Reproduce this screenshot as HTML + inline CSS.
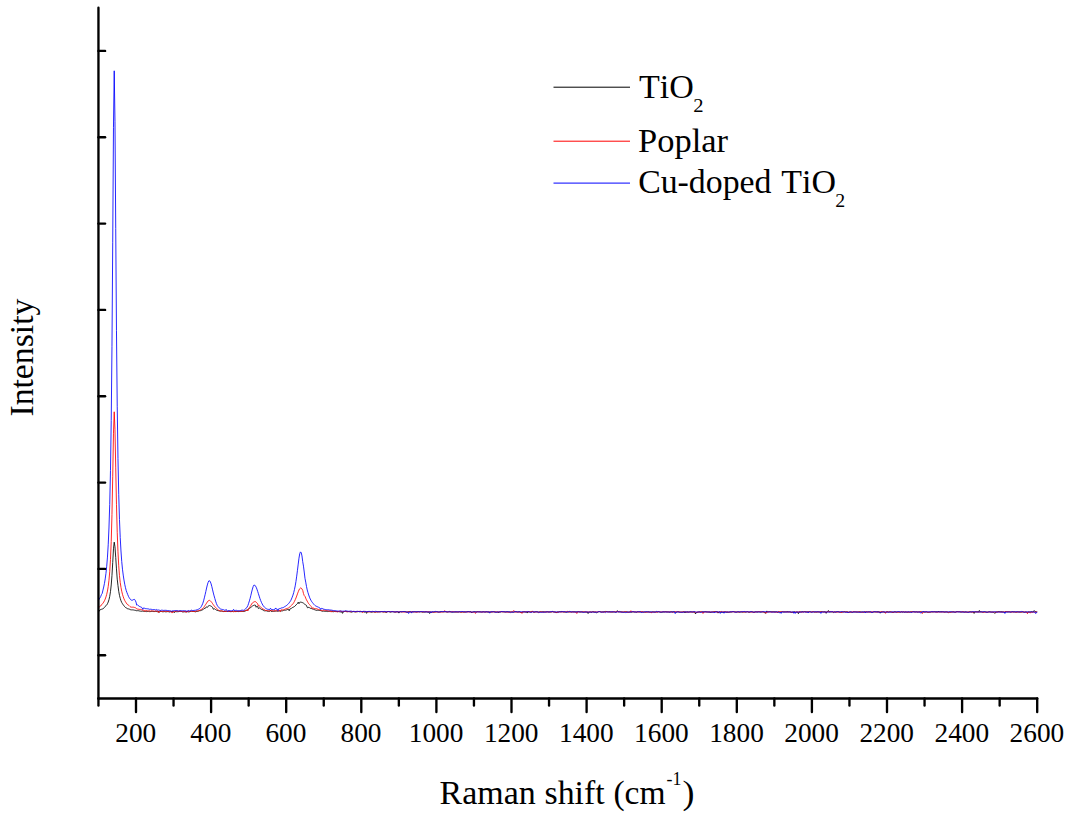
<!DOCTYPE html>
<html><head><meta charset="utf-8"><title>Raman</title>
<style>
html,body{margin:0;padding:0;background:#fff;}
body{width:1074px;height:817px;overflow:hidden;}
svg{display:block;}
text{font-family:"Liberation Serif",serif;fill:#000;}
</style></head><body>
<svg width="1074" height="817" viewBox="0 0 1074 817">
<rect width="1074" height="817" fill="#fff"/>

<polyline fill="none" stroke="#000" stroke-width="0.85" stroke-linejoin="round" points="98.45,609.97 99.20,611.24 99.95,609.86 100.70,609.54 101.45,609.30 102.20,609.07 102.96,608.80 103.71,608.27 104.46,607.39 105.21,606.39 105.96,605.75 106.71,605.00 107.46,603.72 108.21,602.04 108.96,599.72 109.72,596.36 110.47,591.65 111.22,584.97 111.97,575.37 112.72,562.54 113.47,548.82 114.22,542.17 114.97,546.77 115.72,557.47 116.47,568.89 117.22,579.11 117.98,585.60 118.73,591.26 119.48,595.35 120.23,598.32 120.98,600.75 121.73,602.49 122.48,603.71 123.23,604.82 123.98,605.77 124.73,606.71 125.49,607.51 126.24,607.87 126.99,608.37 127.74,608.84 128.49,608.91 129.24,609.07 129.99,609.49 130.74,609.79 131.49,609.87 132.25,609.87 133.00,609.86 133.75,610.02 134.50,610.20 135.25,610.31 136.00,610.57 136.75,610.75 137.50,610.66 138.25,610.68 139.00,610.90 139.75,611.02 140.51,611.17 141.26,611.31 142.01,611.11 142.76,611.11 143.51,611.34 144.26,611.36 145.01,611.30 145.76,611.35 146.51,611.58 147.26,611.53 148.02,611.22 148.77,611.30 149.52,611.63 150.27,611.60 151.02,611.45 151.77,611.39 152.52,611.36 153.27,611.50 154.02,611.59 154.78,611.52 155.53,611.39 156.28,611.46 157.03,611.71 157.78,611.70 158.53,611.39 159.28,612.42 160.03,611.34 160.78,611.35 161.53,611.51 162.28,611.73 163.04,611.82 163.79,611.69 164.54,611.59 165.29,611.78 166.04,611.85 166.79,611.71 167.54,611.60 168.29,611.64 169.04,611.91 169.80,611.99 170.55,611.70 171.30,611.44 172.05,611.46 172.80,611.61 173.55,611.68 174.30,612.67 175.05,611.64 175.80,611.64 176.55,611.73 177.31,611.73 178.06,611.65 178.81,611.60 179.56,611.43 180.31,611.20 181.06,611.19 181.81,611.51 182.56,611.88 183.31,611.91 184.06,611.74 184.81,611.79 185.57,611.86 186.32,611.58 187.07,611.51 187.82,611.82 188.57,611.92 189.32,611.81 190.07,611.62 190.82,611.37 191.57,611.27 192.32,611.41 193.08,611.45 193.83,611.33 194.58,611.19 195.33,612.21 196.08,611.25 196.83,611.42 197.58,611.43 198.33,611.19 199.08,610.82 199.84,610.66 200.59,610.63 201.34,610.37 202.09,609.97 202.84,609.67 203.59,609.21 204.34,608.36 205.09,608.60 205.84,607.29 206.59,607.00 207.34,607.44 208.10,606.19 208.85,605.70 209.60,605.56 210.35,605.81 211.10,606.19 211.85,606.67 212.60,607.35 213.35,609.28 214.10,608.58 214.86,609.03 215.61,609.58 216.36,610.05 217.11,610.41 217.86,610.59 218.61,610.72 219.36,610.98 220.11,611.12 220.86,611.09 221.61,611.06 222.37,611.25 223.12,611.55 223.87,611.54 224.62,611.50 225.37,611.48 226.12,611.34 226.87,611.28 227.62,611.34 228.37,611.37 229.12,611.37 229.88,611.53 230.63,611.58 231.38,611.54 232.13,611.47 232.88,611.27 233.63,611.15 234.38,611.22 235.13,611.47 235.88,611.63 236.63,611.53 237.38,611.50 238.14,611.57 238.89,611.54 239.64,611.39 240.39,611.33 241.14,611.38 241.89,611.38 242.64,611.46 243.39,611.52 244.14,611.43 244.89,611.23 245.65,610.81 246.40,610.37 247.15,610.04 247.90,609.52 248.65,608.91 249.40,608.42 250.15,607.89 250.90,607.35 251.65,606.73 252.41,606.06 253.16,605.62 253.91,605.25 254.66,605.08 255.41,605.21 256.16,607.26 256.91,606.20 257.66,606.66 258.41,608.55 259.16,607.79 259.92,608.29 260.67,608.82 261.42,609.35 262.17,609.82 262.92,609.49 263.67,610.64 264.42,610.81 265.17,610.84 265.92,610.73 266.67,610.88 267.43,611.25 268.18,611.26 268.93,611.25 269.68,611.31 270.43,610.29 271.18,611.36 271.93,611.51 272.68,611.37 273.43,611.22 274.18,611.25 274.94,611.27 275.69,611.07 276.44,611.03 277.19,611.21 277.94,611.20 278.69,611.08 279.44,610.89 280.19,611.41 280.94,610.74 281.69,610.93 282.44,610.86 283.20,610.49 283.95,610.18 284.70,610.23 285.45,610.20 286.20,610.02 286.95,609.74 287.70,609.46 288.45,609.39 289.20,610.75 289.95,608.87 290.71,608.65 291.46,608.30 292.21,607.74 292.96,607.32 293.71,606.99 294.46,606.54 295.21,605.88 295.96,605.01 296.71,604.23 297.46,603.56 298.22,602.16 298.97,603.72 299.72,602.32 300.47,602.14 301.22,602.21 301.97,602.48 302.72,602.73 303.47,603.13 304.22,603.82 304.98,604.49 305.73,604.89 306.48,605.38 307.23,607.46 307.98,608.02 308.73,607.18 309.48,607.65 310.23,608.23 310.98,608.44 311.73,608.64 312.49,608.99 313.24,609.13 313.99,609.41 314.74,609.78 315.49,610.05 316.24,610.33 316.99,610.29 317.74,610.21 318.49,610.35 319.24,610.39 320.00,610.48 320.75,610.62 321.50,610.91 322.25,611.25 323.00,611.18 323.75,611.11 324.50,611.31 325.25,611.36 326.00,611.24 326.75,611.38 327.50,611.56 328.26,611.42 329.01,611.26 329.76,611.27 330.51,611.15 331.26,611.10 332.01,611.38 332.76,611.68 333.51,611.71 334.26,611.50 335.01,611.35 335.77,611.37 336.52,611.46 337.27,611.54 338.02,611.58 338.77,611.64 339.52,611.75 340.27,611.91 341.02,611.95 341.77,611.87 342.52,613.36 343.28,611.80 344.03,611.63 344.78,611.42 345.53,611.20 346.28,611.39 347.03,611.65 347.78,611.60 348.53,611.64 349.28,611.70 350.04,611.66 350.79,611.96 351.54,612.15 352.29,611.88 353.04,611.66 353.79,611.62 354.54,611.82 355.29,611.86 356.04,611.70 356.79,611.79 357.55,611.71 358.30,611.55 359.05,611.66 359.80,611.78 360.55,611.72 361.30,611.72 362.05,611.80 362.80,611.72 363.55,611.51 364.30,612.25 365.06,611.75 365.81,611.91 366.56,613.34 367.31,611.80 368.06,611.79 368.81,611.70 369.56,611.69 370.31,611.84 371.06,612.06 371.81,612.25 372.56,612.03 373.32,611.73 374.07,611.87 374.82,612.07 375.57,612.02 376.32,611.83 377.07,611.86 377.82,611.95 378.57,611.82 379.32,611.71 380.07,611.77 380.83,611.77 381.58,611.63 382.33,611.68 383.08,611.88 383.83,611.96 384.58,611.87 385.33,611.78 386.08,612.79 386.83,611.69 387.58,611.61 388.34,611.58 389.09,611.66 389.84,611.95 390.59,612.12 391.34,611.91 392.09,611.73 392.84,611.76 393.59,611.82 394.34,611.93 395.09,612.03 395.85,611.94 396.60,611.74 397.35,611.80 398.10,612.03 398.85,613.08 399.60,611.90 400.35,611.66 401.10,611.77 401.85,611.85 402.60,611.64 403.36,611.52 404.11,611.59 404.86,611.63 405.61,611.63 406.36,611.68 407.11,612.63 407.86,611.84 408.61,611.72 409.36,611.61 410.12,611.74 410.87,611.99 411.62,611.87 412.37,611.73 413.12,611.84 413.87,611.80 414.62,611.72 415.37,611.80 416.12,611.94 416.87,611.89 417.62,611.68 418.38,611.64 419.13,611.79 419.88,611.87 420.63,611.80 421.38,611.82 422.13,612.07 422.88,612.15 423.63,612.06 424.38,612.09 425.13,612.06 425.89,611.90 426.64,611.91 427.39,611.97 428.14,611.99 428.89,612.06 429.64,613.49 430.39,612.18 431.14,612.15 431.89,611.94 432.64,611.98 433.40,612.08 434.15,612.00 434.90,611.88 435.65,611.89 436.40,611.85 437.15,611.82 437.90,611.97 438.65,612.07 439.40,611.94 440.15,611.72 440.91,611.60 441.66,611.67 442.41,611.84 443.16,611.88 443.91,611.83 444.66,611.85 445.41,611.78 446.16,611.81 446.91,611.97 447.66,611.99 448.42,611.82 449.17,611.50 449.92,611.44 450.67,611.75 451.42,612.08 452.17,612.22 452.92,612.05 453.67,611.98 454.42,612.01 455.18,611.99 455.93,612.10 456.68,612.05 457.43,612.00 458.18,612.03 458.93,611.81 459.68,611.81 460.43,612.14 461.18,612.17 461.93,611.94 462.69,611.97 463.44,612.11 464.19,612.06 464.94,611.97 465.69,611.89 466.44,611.79 467.19,611.69 467.94,611.55 468.69,611.56 469.44,611.66 470.19,611.63 470.95,611.61 471.70,612.89 472.45,611.99 473.20,611.88 473.95,611.74 474.70,611.69 475.45,611.76 476.20,611.82 476.95,611.72 477.70,611.65 478.46,611.80 479.21,611.93 479.96,611.93 480.71,611.95 481.46,611.94 482.21,611.90 482.96,611.75 483.71,611.67 484.46,611.85 485.21,611.96 485.97,611.91 486.72,611.93 487.47,612.09 488.22,612.11 488.97,611.94 489.72,611.86 490.47,611.93 491.22,612.06 491.97,612.05 492.72,611.82 493.48,611.67 494.23,611.77 494.98,611.85 495.73,611.92 496.48,612.05 497.23,612.06 497.98,611.97 498.73,612.82 499.48,612.00 500.24,612.02 500.99,611.74 501.74,611.63 502.49,611.82 503.24,611.87 503.99,611.81 504.74,611.91 505.49,611.97 506.24,611.84 506.99,611.80 507.75,611.78 508.50,611.86 509.25,611.99 510.00,611.92 510.75,611.88 511.50,612.02 512.25,612.08 513.00,612.15 513.75,612.12 514.50,611.83 515.25,611.76 516.01,611.81 516.76,611.84 517.51,611.99 518.26,611.89 519.01,611.63 519.76,611.83 520.51,612.41 521.26,612.63 522.01,612.24 522.76,611.89 523.52,611.94 524.27,611.95 525.02,611.93 525.77,612.00 526.52,611.91 527.27,613.05 528.02,611.79 528.77,611.89 529.52,611.95 530.27,611.93 531.03,611.87 531.78,611.60 532.53,611.54 533.28,612.01 534.03,612.32 534.78,612.12 535.53,611.84 536.28,611.69 537.03,611.77 537.78,612.03 538.54,612.01 539.29,611.89 540.04,611.92 540.79,611.88 541.54,611.84 542.29,611.79 543.04,611.73 543.79,611.72 544.54,611.84 545.30,612.00 546.05,611.96 546.80,611.89 547.55,611.81 548.30,611.76 549.05,611.94 549.80,612.11 550.55,612.11 551.30,611.98 552.05,611.91 552.81,611.29 553.56,611.81 554.31,611.83 555.06,612.04 555.81,612.12 556.56,613.06 557.31,611.95 558.06,612.05 558.81,611.78 559.56,611.60 560.32,611.74 561.07,611.68 561.82,611.48 562.57,611.66 563.32,611.98 564.07,612.01 564.82,611.97 565.57,612.14 566.32,612.23 567.07,612.04 567.83,611.96 568.58,611.97 569.33,611.88 570.08,611.85 570.83,611.97 571.58,612.03 572.33,611.82 573.08,611.73 573.83,611.79 574.58,611.75 575.34,611.84 576.09,611.89 576.84,611.82 577.59,611.88 578.34,611.89 579.09,611.91 579.84,612.00 580.59,612.14 581.34,612.07 582.09,611.84 582.85,611.84 583.60,611.95 584.35,611.97 585.10,612.01 585.85,612.18 586.60,612.21 587.35,612.10 588.10,613.53 588.85,612.10 589.60,612.01 590.36,611.98 591.11,611.86 591.86,612.59 592.61,611.60 593.36,611.70 594.11,611.89 594.86,612.11 595.61,612.20 596.36,612.95 597.11,612.30 597.87,612.11 598.62,611.76 599.37,611.59 600.12,611.75 600.87,611.96 601.62,611.99 602.37,611.96 603.12,611.89 603.87,611.84 604.62,611.65 605.38,611.46 606.13,611.47 606.88,611.54 607.63,611.78 608.38,611.88 609.13,611.66 609.88,611.64 610.63,611.89 611.38,612.07 612.13,612.15 612.88,612.01 613.64,611.84 614.39,611.93 615.14,612.13 615.89,612.15 616.64,611.93 617.39,610.64 618.14,611.78 618.89,611.95 619.64,611.98 620.40,611.79 621.15,611.84 621.90,611.91 622.65,612.00 623.40,612.20 624.15,612.11 624.90,611.94 625.65,611.80 626.40,611.69 627.15,611.91 627.91,612.19 628.66,612.10 629.41,611.93 630.16,612.00 630.91,612.23 631.66,612.23 632.41,611.96 633.16,611.86 633.91,612.04 634.66,612.06 635.42,612.02 636.17,612.25 636.92,612.05 637.67,611.69 638.42,611.80 639.17,612.00 639.92,612.00 640.67,611.92 641.42,612.01 642.17,611.99 642.93,611.98 643.68,612.02 644.43,611.99 645.18,612.13 645.93,612.14 646.68,612.02 647.43,611.97 648.18,611.84 648.93,611.80 649.68,611.96 650.44,612.08 651.19,612.08 651.94,611.97 652.69,611.87 653.44,611.89 654.19,611.91 654.94,611.99 655.69,612.01 656.44,611.95 657.19,612.03 657.95,611.91 658.70,611.81 659.45,612.00 660.20,612.14 660.95,612.20 661.70,612.23 662.45,612.21 663.20,612.14 663.95,612.03 664.70,611.85 665.46,611.69 666.21,611.75 666.96,611.83 667.71,611.92 668.46,612.04 669.21,612.20 669.96,612.25 670.71,611.95 671.46,611.68 672.21,611.80 672.97,611.87 673.72,611.78 674.47,611.93 675.22,612.15 675.97,612.22 676.72,612.18 677.47,611.91 678.22,611.70 678.97,611.90 679.72,612.14 680.48,612.12 681.23,612.14 681.98,612.19 682.73,612.00 683.48,611.81 684.23,611.81 684.98,612.96 685.73,612.20 686.48,612.18 687.23,611.81 687.99,611.81 688.74,612.07 689.49,612.02 690.24,611.89 690.99,611.85 691.74,611.91 692.49,611.99 693.24,611.94 693.99,611.91 694.74,612.07 695.50,613.91 696.25,612.55 697.00,612.38 697.75,612.21 698.50,611.97 699.25,611.81 700.00,611.88 700.75,611.97 701.50,611.88 702.25,611.83 703.00,611.90 703.76,611.82 704.51,611.76 705.26,611.76 706.01,611.77 706.76,611.88 707.51,611.93 708.26,612.06 709.01,612.19 709.76,612.12 710.52,612.95 711.27,612.04 712.02,612.08 712.77,612.03 713.52,611.75 714.27,611.60 715.02,611.67 715.77,611.66 716.52,611.60 717.27,611.59 718.03,613.10 718.78,612.05 719.53,611.85 720.28,611.93 721.03,612.14 721.78,612.22 722.53,612.99 723.28,612.16 724.03,612.00 724.78,611.77 725.54,611.86 726.29,612.24 727.04,612.31 727.79,612.26 728.54,612.26 729.29,612.10 730.04,612.01 730.79,612.09 731.54,612.04 732.29,611.81 733.05,611.61 733.80,611.63 734.55,611.78 735.30,611.87 736.05,611.96 736.80,612.01 737.55,612.00 738.30,612.00 739.05,612.13 739.80,612.17 740.56,611.97 741.31,611.97 742.06,612.14 742.81,612.11 743.56,611.95 744.31,611.96 745.06,612.04 745.81,612.01 746.56,611.88 747.31,611.73 748.07,611.86 748.82,612.25 749.57,612.34 750.32,612.00 751.07,611.76 751.82,611.78 752.57,611.84 753.32,612.05 754.07,612.12 754.82,611.93 755.58,611.83 756.33,611.94 757.08,612.08 757.83,612.06 758.58,611.96 759.33,611.92 760.08,612.01 760.83,612.11 761.58,611.98 762.33,611.81 763.09,611.91 763.84,612.12 764.59,612.21 765.34,613.39 766.09,611.94 766.84,610.92 767.59,612.15 768.34,611.83 769.09,611.75 769.84,611.83 770.60,611.79 771.35,611.72 772.10,611.75 772.85,611.75 773.60,611.70 774.35,611.69 775.10,611.79 775.85,611.92 776.60,611.97 777.35,612.15 778.11,612.20 778.86,612.03 779.61,611.99 780.36,612.01 781.11,611.94 781.86,611.79 782.61,611.90 783.36,612.08 784.11,611.93 784.86,611.85 785.62,611.94 786.37,611.77 787.12,611.55 787.87,611.67 788.62,611.91 789.37,611.97 790.12,612.00 790.87,612.32 791.62,612.51 792.37,612.31 793.12,612.01 793.88,611.75 794.63,611.86 795.38,612.14 796.13,612.13 796.88,612.00 797.63,612.05 798.38,613.66 799.13,611.98 799.88,611.92 800.63,611.90 801.39,611.81 802.14,611.62 802.89,611.71 803.64,611.86 804.39,611.67 805.14,611.64 805.89,611.79 806.64,611.92 807.39,611.92 808.15,611.87 808.90,611.84 809.65,611.75 810.40,611.85 811.15,612.03 811.90,611.96 812.65,611.78 813.40,611.80 814.15,611.94 814.90,612.00 815.66,612.04 816.41,612.18 817.16,612.07 817.91,611.82 818.66,611.86 819.41,611.99 820.16,611.93 820.91,611.67 821.66,611.60 822.41,611.80 823.17,611.92 823.92,611.87 824.67,611.67 825.42,611.73 826.17,613.33 826.92,611.78 827.67,611.76 828.42,610.52 829.17,611.89 829.92,612.03 830.68,612.00 831.43,611.88 832.18,611.96 832.93,611.92 833.68,612.51 834.43,611.85 835.18,612.07 835.93,612.02 836.68,611.81 837.43,611.72 838.19,611.76 838.94,611.89 839.69,612.10 840.44,612.12 841.19,612.02 841.94,611.93 842.69,612.00 843.44,611.96 844.19,611.69 844.94,611.81 845.70,611.88 846.45,611.73 847.20,611.74 847.95,612.04 848.70,612.40 849.45,612.23 850.20,611.97 850.95,612.08 851.70,612.31 852.45,612.25 853.21,611.89 853.96,611.84 854.71,612.03 855.46,612.02 856.21,612.04 856.96,612.12 857.71,612.04 858.46,611.88 859.21,611.75 859.96,611.72 860.72,611.88 861.47,611.97 862.22,611.96 862.97,612.09 863.72,612.08 864.47,611.89 865.22,611.91 865.97,611.91 866.72,611.92 867.47,612.01 868.23,611.90 868.98,611.84 869.73,611.90 870.48,611.95 871.23,612.17 871.98,612.32 872.73,612.20 873.48,612.03 874.23,611.87 874.98,611.88 875.74,611.99 876.49,611.88 877.24,611.67 877.99,611.66 878.74,611.78 879.49,611.88 880.24,613.19 880.99,611.94 881.74,611.88 882.49,611.90 883.25,611.99 884.00,612.19 884.75,612.37 885.50,612.33 886.25,612.03 887.00,611.70 887.75,611.75 888.50,612.11 889.25,612.17 890.00,611.91 890.75,611.92 891.51,612.03 892.26,611.88 893.01,612.81 893.76,611.72 894.51,611.74 895.26,611.77 896.01,611.90 896.76,612.07 897.51,612.09 898.27,612.00 899.02,611.94 899.77,612.13 900.52,612.18 901.27,611.87 902.02,611.63 902.77,612.35 903.52,611.79 904.27,612.13 905.02,612.18 905.78,612.07 906.53,612.14 907.28,612.25 908.03,612.08 908.78,611.97 909.53,612.05 910.28,611.91 911.03,611.77 911.78,611.78 912.53,611.72 913.29,611.70 914.04,611.79 914.79,611.89 915.54,611.88 916.29,611.83 917.04,611.97 917.79,612.03 918.54,611.94 919.29,611.97 920.04,611.86 920.80,611.76 921.55,611.85 922.30,611.86 923.05,611.76 923.80,611.88 924.55,612.20 925.30,612.14 926.05,611.82 926.80,611.94 927.55,612.30 928.31,612.28 929.06,612.10 929.81,612.05 930.56,611.94 931.31,611.86 932.06,611.95 932.81,612.03 933.56,611.80 934.31,611.68 935.06,611.82 935.82,611.74 936.57,611.67 937.32,611.79 938.07,611.99 938.82,611.10 939.57,612.09 940.32,611.83 941.07,611.66 941.82,611.63 942.57,611.66 943.33,611.78 944.08,612.02 944.83,612.13 945.58,611.96 946.33,611.85 947.08,612.00 947.83,612.18 948.58,612.22 949.33,612.17 950.08,612.10 950.84,612.09 951.59,612.01 952.34,611.90 953.09,611.80 953.84,611.82 954.59,612.15 955.34,612.26 956.09,611.86 956.84,611.58 957.59,611.62 958.35,611.76 959.10,611.84 959.85,611.98 960.60,612.15 961.35,612.08 962.10,611.95 962.85,611.85 963.60,611.82 964.35,612.05 965.10,612.03 965.86,611.86 966.61,612.03 967.36,612.24 968.11,612.26 968.86,612.03 969.61,611.75 970.36,611.74 971.11,611.87 971.86,611.92 972.61,611.85 973.37,611.93 974.12,613.41 974.87,612.05 975.62,611.86 976.37,611.76 977.12,611.83 977.87,611.73 978.62,611.68 979.37,610.46 980.12,612.10 980.88,611.86 981.63,611.81 982.38,611.90 983.13,611.93 983.88,611.93 984.63,611.91 985.38,611.89 986.13,611.93 986.88,612.10 987.63,612.13 988.38,612.01 989.14,611.95 989.89,611.88 990.64,611.93 991.39,612.00 992.14,611.98 992.89,612.11 993.64,612.27 994.39,613.06 995.14,613.30 995.90,612.05 996.65,611.89 997.40,611.76 998.15,611.67 998.90,611.56 999.65,611.65 1000.40,611.76 1001.15,611.64 1001.90,611.69 1002.65,611.89 1003.41,611.85 1004.16,612.69 1004.91,611.75 1005.66,611.75 1006.41,611.76 1007.16,611.83 1007.91,611.90 1008.66,611.93 1009.41,611.91 1010.16,611.98 1010.92,612.10 1011.67,611.92 1012.42,611.70 1013.17,611.77 1013.92,611.86 1014.67,611.92 1015.42,612.07 1016.17,612.14 1016.92,612.05 1017.67,611.91 1018.43,611.87 1019.18,611.92 1019.93,611.97 1020.68,612.14 1021.43,612.16 1022.18,611.91 1022.93,611.82 1023.68,612.09 1024.43,612.25 1025.18,612.03 1025.93,611.99 1026.69,612.16 1027.44,612.21 1028.19,612.10 1028.94,611.92 1029.69,611.94 1030.44,611.94 1031.19,611.72 1031.94,611.81 1032.69,611.94 1033.44,611.86 1034.20,610.56 1034.95,611.52 1035.70,611.64 1036.45,611.94 1037.20,612.02"/>
<polyline fill="none" stroke="#f00" stroke-width="0.85" stroke-linejoin="round" points="98.45,607.31 99.20,606.95 99.95,606.61 100.70,606.00 101.45,604.91 102.20,604.00 102.96,603.22 103.71,602.07 104.46,600.74 105.21,599.09 105.96,596.92 106.71,594.34 107.46,591.04 108.21,586.51 108.96,580.30 109.72,571.73 110.47,559.51 111.22,541.46 111.97,514.47 112.72,476.21 113.47,433.17 114.22,411.80 114.97,429.64 115.72,467.87 116.47,504.73 117.22,532.29 117.98,551.76 118.73,565.78 119.48,575.67 120.23,582.48 120.98,587.39 121.73,591.23 122.48,594.27 123.23,596.74 123.98,598.80 124.73,600.47 125.49,601.79 126.24,602.92 126.99,604.02 127.74,604.81 128.49,605.23 129.24,605.72 129.99,606.48 130.74,607.07 131.49,607.20 132.25,607.18 133.00,607.17 133.75,607.23 134.50,607.46 135.25,607.65 136.00,608.13 136.75,608.83 137.50,609.07 138.25,609.16 139.00,609.38 139.75,609.39 140.51,609.41 141.26,609.76 142.01,609.51 142.76,610.23 143.51,610.22 144.26,610.32 145.01,611.52 145.76,610.45 146.51,610.52 147.26,610.80 148.02,611.11 148.77,611.06 149.52,610.75 150.27,611.28 151.02,610.62 151.77,610.83 152.52,610.99 153.27,610.94 154.02,611.05 154.78,611.26 155.53,611.13 156.28,610.86 157.03,610.90 157.78,611.06 158.53,612.58 159.28,611.22 160.03,611.12 160.78,611.22 161.53,611.35 162.28,611.38 163.04,611.39 163.79,611.24 164.54,611.18 165.29,611.25 166.04,611.23 166.79,611.32 167.54,611.43 168.29,611.48 169.04,611.45 169.80,611.42 170.55,611.49 171.30,611.57 172.05,613.05 172.80,611.68 173.55,611.71 174.30,611.54 175.05,611.33 175.80,611.23 176.55,611.11 177.31,611.03 178.06,611.26 178.81,611.36 179.56,611.29 180.31,611.40 181.06,611.46 181.81,611.49 182.56,611.61 183.31,611.64 184.06,611.47 184.81,611.47 185.57,611.47 186.32,612.50 187.07,611.20 187.82,611.41 188.57,611.51 189.32,611.46 190.07,611.36 190.82,611.22 191.57,611.23 192.32,611.40 193.08,611.46 193.83,611.48 194.58,611.50 195.33,611.37 196.08,611.14 196.83,610.87 197.58,610.78 198.33,610.80 199.08,610.65 199.84,610.27 200.59,609.80 201.34,609.44 202.09,609.04 202.84,608.48 203.59,607.63 204.34,606.52 205.09,605.37 205.84,604.25 206.59,603.13 207.34,601.98 208.10,601.01 208.85,600.41 209.60,600.36 210.35,600.83 211.10,601.63 211.85,602.57 212.60,603.65 213.35,604.76 214.10,605.76 214.86,606.74 215.61,607.55 216.36,608.22 217.11,608.90 217.86,609.63 218.61,610.25 219.36,610.54 220.11,610.80 220.86,611.02 221.61,610.96 222.37,611.00 223.12,611.07 223.87,611.83 224.62,611.02 225.37,611.23 226.12,611.37 226.87,611.29 227.62,611.30 228.37,611.36 229.12,611.23 229.88,611.35 230.63,611.60 231.38,611.59 232.13,611.47 232.88,611.26 233.63,612.06 234.38,611.55 235.13,611.58 235.88,611.44 236.63,611.29 237.38,611.12 238.14,611.16 238.89,611.29 239.64,611.40 240.39,611.52 241.14,611.31 241.89,611.10 242.64,611.20 243.39,611.18 244.14,610.84 244.89,610.53 245.65,610.55 246.40,610.36 247.15,609.89 247.90,610.92 248.65,608.63 249.40,607.57 250.15,606.47 250.90,605.26 251.65,603.93 252.41,602.93 253.16,602.41 253.91,601.98 254.66,601.61 255.41,601.62 256.16,602.18 256.91,602.98 257.66,603.78 258.41,606.13 259.16,605.45 259.92,606.43 260.67,607.27 261.42,607.76 262.17,608.39 262.92,609.03 263.67,609.25 264.42,609.65 265.17,610.29 265.92,610.60 266.67,610.50 267.43,610.52 268.18,610.84 268.93,610.93 269.68,610.75 270.43,610.78 271.18,610.65 271.93,610.22 272.68,610.15 273.43,611.43 274.18,610.60 274.94,610.71 275.69,610.83 276.44,610.71 277.19,610.64 277.94,610.73 278.69,610.58 279.44,610.25 280.19,611.62 280.94,609.93 281.69,609.82 282.44,609.90 283.20,609.96 283.95,609.79 284.70,609.35 285.45,608.94 286.20,608.68 286.95,608.47 287.70,608.28 288.45,607.95 289.20,607.53 289.95,606.88 290.71,605.95 291.46,605.28 292.21,604.74 292.96,603.83 293.71,602.68 294.46,601.35 295.21,599.74 295.96,598.00 296.71,596.04 297.46,593.90 298.22,591.80 298.97,590.00 299.72,588.67 300.47,587.96 301.22,588.09 301.97,588.99 302.72,590.37 303.47,593.50 304.22,595.53 304.98,596.31 305.73,598.19 306.48,599.83 307.23,601.14 307.98,602.51 308.73,603.78 309.48,604.54 310.23,605.43 310.98,606.47 311.73,607.02 312.49,608.43 313.24,608.03 313.99,608.39 314.74,608.55 315.49,608.66 316.24,608.69 316.99,608.82 317.74,609.18 318.49,609.44 319.24,609.63 320.00,609.93 320.75,610.31 321.50,610.55 322.25,610.45 323.00,610.20 323.75,610.14 324.50,610.31 325.25,610.57 326.00,610.67 326.75,610.51 327.50,610.56 328.26,610.86 329.01,611.04 329.76,611.01 330.51,610.85 331.26,612.11 332.01,611.05 332.76,611.05 333.51,611.11 334.26,611.31 335.01,611.52 335.77,611.65 336.52,611.59 337.27,612.23 338.02,611.11 338.77,611.43 339.52,611.45 340.27,610.79 341.02,611.51 341.77,611.55 342.52,611.50 343.28,611.42 344.03,611.47 344.78,611.47 345.53,611.44 346.28,611.66 347.03,611.85 347.78,611.69 348.53,611.49 349.28,611.51 350.04,611.63 350.79,611.71 351.54,611.60 352.29,611.49 353.04,611.43 353.79,611.37 354.54,611.60 355.29,611.91 356.04,611.87 356.79,611.61 357.55,611.52 358.30,611.50 359.05,611.43 359.80,611.33 360.55,611.42 361.30,611.64 362.05,611.61 362.80,612.68 363.55,611.71 364.30,611.51 365.06,611.38 365.81,611.52 366.56,611.67 367.31,611.78 368.06,611.87 368.81,611.85 369.56,611.82 370.31,611.81 371.06,611.80 371.81,611.67 372.56,611.67 373.32,611.80 374.07,611.87 374.82,612.14 375.57,612.22 376.32,611.94 377.07,611.76 377.82,611.84 378.57,611.99 379.32,611.90 380.07,611.69 380.83,611.62 381.58,611.69 382.33,611.80 383.08,611.91 383.83,611.93 384.58,611.83 385.33,611.81 386.08,611.96 386.83,611.96 387.58,611.67 388.34,611.50 389.09,611.62 389.84,611.78 390.59,611.77 391.34,611.66 392.09,611.55 392.84,611.52 393.59,611.73 394.34,611.98 395.09,612.05 395.85,612.10 396.60,611.99 397.35,611.69 398.10,611.72 398.85,611.83 399.60,611.66 400.35,611.75 401.10,611.93 401.85,611.86 402.60,611.88 403.36,612.10 404.11,612.17 404.86,611.96 405.61,611.99 406.36,612.16 407.11,611.91 407.86,611.76 408.61,611.87 409.36,611.89 410.12,611.95 410.87,612.02 411.62,611.88 412.37,611.80 413.12,611.96 413.87,611.92 414.62,611.87 415.37,611.98 416.12,612.08 416.87,612.15 417.62,612.09 418.38,611.90 419.13,611.89 419.88,611.76 420.63,611.55 421.38,611.73 422.13,611.91 422.88,611.93 423.63,611.86 424.38,611.76 425.13,611.76 425.89,611.64 426.64,611.70 427.39,611.87 428.14,611.85 428.89,611.71 429.64,611.57 430.39,611.81 431.14,612.18 431.89,612.31 432.64,612.24 433.40,612.13 434.15,612.15 434.90,612.18 435.65,612.08 436.40,611.86 437.15,611.82 437.90,612.06 438.65,612.15 439.40,612.17 440.15,612.26 440.91,612.24 441.66,612.06 442.41,611.87 443.16,611.91 443.91,611.94 444.66,610.58 445.41,611.83 446.16,611.88 446.91,611.91 447.66,611.94 448.42,611.83 449.17,611.82 449.92,612.01 450.67,611.99 451.42,611.76 452.17,611.56 452.92,611.51 453.67,611.72 454.42,611.86 455.18,611.88 455.93,611.84 456.68,611.82 457.43,611.96 458.18,611.96 458.93,611.88 459.68,611.83 460.43,611.74 461.18,612.58 461.93,611.70 462.69,611.83 463.44,612.01 464.19,612.14 464.94,612.12 465.69,611.98 466.44,611.87 467.19,612.00 467.94,612.06 468.69,611.96 469.44,612.03 470.19,612.09 470.95,611.96 471.70,612.03 472.45,612.29 473.20,612.22 473.95,611.99 474.70,612.01 475.45,613.42 476.20,611.95 476.95,611.79 477.70,611.83 478.46,611.79 479.21,611.78 479.96,611.89 480.71,611.91 481.46,611.99 482.21,612.11 482.96,612.05 483.71,611.90 484.46,611.95 485.21,612.10 485.97,611.98 486.72,611.69 487.47,611.69 488.22,611.93 488.97,612.13 489.72,612.16 490.47,611.96 491.22,611.95 491.97,612.01 492.72,611.80 493.48,611.79 494.23,612.03 494.98,612.09 495.73,612.00 496.48,611.93 497.23,612.04 497.98,612.05 498.73,611.80 499.48,611.68 500.24,611.63 500.99,611.67 501.74,611.83 502.49,611.83 503.24,611.74 503.99,611.77 504.74,611.93 505.49,612.01 506.24,612.01 506.99,612.07 507.75,612.20 508.50,612.24 509.25,612.12 510.00,612.10 510.75,612.07 511.50,611.94 512.25,611.75 513.00,611.62 513.75,610.51 514.50,612.10 515.25,612.04 516.01,611.97 516.76,611.95 517.51,612.04 518.26,612.10 519.01,612.09 519.76,612.17 520.51,612.27 521.26,612.14 522.01,613.39 522.76,611.78 523.52,611.91 524.27,611.95 525.02,611.83 525.77,611.70 526.52,611.62 527.27,611.73 528.02,611.79 528.77,611.63 529.52,611.65 530.27,611.87 531.03,612.05 531.78,612.17 532.53,610.92 533.28,612.09 534.03,612.05 534.78,612.02 535.53,611.99 536.28,611.92 537.03,611.85 537.78,611.90 538.54,612.69 539.29,612.06 540.04,611.74 540.79,611.67 541.54,611.85 542.29,611.99 543.04,612.21 543.79,612.27 544.54,611.97 545.30,611.81 546.05,612.03 546.80,612.00 547.55,611.89 548.30,612.03 549.05,611.94 549.80,611.83 550.55,611.91 551.30,611.73 552.05,611.63 552.81,611.92 553.56,612.07 554.31,612.03 555.06,612.14 555.81,612.05 556.56,612.88 557.31,611.91 558.06,612.21 558.81,612.12 559.56,611.89 560.32,611.94 561.07,612.11 561.82,612.02 562.57,611.87 563.32,611.83 564.07,611.97 564.82,612.03 565.57,611.78 566.32,611.64 567.07,611.46 567.83,611.41 568.58,611.84 569.33,612.05 570.08,611.91 570.83,611.93 571.58,612.08 572.33,611.99 573.08,611.80 573.83,611.97 574.58,612.19 575.34,612.17 576.09,612.11 576.84,613.49 577.59,612.05 578.34,611.09 579.09,611.97 579.84,611.93 580.59,611.79 581.34,611.73 582.09,611.94 582.85,612.03 583.60,611.89 584.35,611.79 585.10,611.86 585.85,611.91 586.60,611.90 587.35,611.85 588.10,611.87 588.85,612.02 589.60,612.05 590.36,612.01 591.11,612.01 591.86,611.92 592.61,611.85 593.36,611.94 594.11,612.07 594.86,611.96 595.61,611.68 596.36,611.77 597.11,612.09 597.87,612.00 598.62,611.62 599.37,611.58 600.12,611.73 600.87,611.87 601.62,612.06 602.37,611.99 603.12,611.96 603.87,612.20 604.62,612.12 605.38,611.80 606.13,611.76 606.88,611.92 607.63,611.82 608.38,611.72 609.13,611.97 609.88,612.15 610.63,612.06 611.38,611.90 612.13,611.77 612.88,611.88 613.64,611.87 614.39,611.69 615.14,611.80 615.89,611.86 616.64,611.75 617.39,611.77 618.14,611.81 618.89,611.85 619.64,611.31 620.40,612.15 621.15,612.08 621.90,611.99 622.65,611.96 623.40,611.97 624.15,611.92 624.90,611.68 625.65,611.78 626.40,612.13 627.15,612.14 627.91,612.22 628.66,612.32 629.41,612.10 630.16,612.02 630.91,610.71 631.66,611.98 632.41,611.74 633.16,611.67 633.91,611.76 634.66,611.83 635.42,611.89 636.17,611.98 636.92,612.03 637.67,612.03 638.42,612.01 639.17,611.88 639.92,611.77 640.67,611.75 641.42,611.56 642.17,611.62 642.93,612.04 643.68,612.12 644.43,612.05 645.18,612.14 645.93,612.16 646.68,612.04 647.43,612.01 648.18,612.06 648.93,612.06 649.68,612.20 650.44,612.23 651.19,612.90 651.94,611.97 652.69,612.07 653.44,612.01 654.19,612.16 654.94,612.23 655.69,612.08 656.44,612.13 657.19,612.08 657.95,611.84 658.70,611.66 659.45,611.67 660.20,611.88 660.95,612.06 661.70,611.97 662.45,611.69 663.20,611.57 663.95,611.78 664.70,611.92 665.46,611.87 666.21,611.95 666.96,612.04 667.71,611.96 668.46,611.86 669.21,611.79 669.96,611.69 670.71,611.65 671.46,611.94 672.21,612.35 672.97,612.33 673.72,612.04 674.47,611.79 675.22,611.64 675.97,611.80 676.72,611.90 677.47,611.74 678.22,611.74 678.97,611.86 679.72,611.97 680.48,612.13 681.23,612.06 681.98,611.93 682.73,611.99 683.48,611.86 684.23,611.73 684.98,611.72 685.73,611.72 686.48,611.95 687.23,612.27 687.99,612.27 688.74,612.03 689.49,611.93 690.24,612.08 690.99,612.14 691.74,611.95 692.49,611.88 693.24,612.14 693.99,612.19 694.74,612.10 695.50,612.17 696.25,612.07 697.00,612.09 697.75,612.22 698.50,612.18 699.25,612.10 700.00,611.96 700.75,611.77 701.50,611.71 702.25,611.83 703.00,613.45 703.76,612.02 704.51,611.91 705.26,611.93 706.01,612.09 706.76,612.02 707.51,611.96 708.26,611.94 709.01,611.83 709.76,611.78 710.52,611.87 711.27,611.96 712.02,611.92 712.77,611.93 713.52,611.95 714.27,611.86 715.02,611.79 715.77,611.85 716.52,612.00 717.27,612.12 718.03,612.18 718.78,612.16 719.53,612.04 720.28,611.93 721.03,611.62 721.78,611.46 722.53,611.69 723.28,611.75 724.03,611.83 724.78,612.05 725.54,612.06 726.29,611.82 727.04,611.68 727.79,611.90 728.54,612.20 729.29,612.21 730.04,611.95 730.79,611.75 731.54,611.78 732.29,611.79 733.05,611.76 733.80,611.89 734.55,611.98 735.30,612.10 736.05,612.17 736.80,611.97 737.55,611.78 738.30,611.86 739.05,612.10 739.80,612.07 740.56,611.85 741.31,611.73 742.06,611.79 742.81,611.95 743.56,612.02 744.31,612.00 745.06,611.98 745.81,611.95 746.56,611.82 747.31,611.71 748.07,611.90 748.82,612.08 749.57,611.91 750.32,611.89 751.07,612.12 751.82,612.14 752.57,611.96 753.32,611.89 754.07,612.97 754.82,612.18 755.58,612.00 756.33,611.73 757.08,611.68 757.83,611.77 758.58,611.56 759.33,611.50 760.08,611.66 760.83,611.68 761.58,611.74 762.33,611.85 763.09,611.97 763.84,612.05 764.59,612.19 765.34,612.25 766.09,613.25 766.84,612.01 767.59,611.82 768.34,611.74 769.09,611.87 769.84,611.93 770.60,612.03 771.35,612.15 772.10,612.02 772.85,611.93 773.60,612.03 774.35,612.24 775.10,612.31 775.85,612.09 776.60,611.82 777.35,612.74 778.11,611.59 778.86,611.63 779.61,611.71 780.36,611.77 781.11,611.85 781.86,611.80 782.61,611.58 783.36,611.48 784.11,611.81 784.86,612.01 785.62,611.89 786.37,611.96 787.12,612.03 787.87,612.05 788.62,612.00 789.37,611.78 790.12,611.81 790.87,611.98 791.62,612.01 792.37,611.96 793.12,612.88 793.88,612.01 794.63,612.12 795.38,612.12 796.13,612.03 796.88,612.00 797.63,612.06 798.38,611.99 799.13,611.72 799.88,611.52 800.63,611.87 801.39,612.34 802.14,612.25 802.89,612.01 803.64,611.82 804.39,611.65 805.14,611.89 805.89,612.19 806.64,612.05 807.39,611.88 808.15,611.78 808.90,611.80 809.65,611.92 810.40,611.98 811.15,612.09 811.90,612.03 812.65,611.73 813.40,611.65 814.15,612.00 814.90,612.18 815.66,612.01 816.41,611.88 817.16,611.82 817.91,611.99 818.66,612.03 819.41,611.82 820.16,611.77 820.91,611.90 821.66,611.96 822.41,611.85 823.17,611.85 823.92,611.94 824.67,612.14 825.42,612.25 826.17,612.08 826.92,611.83 827.67,611.69 828.42,611.73 829.17,611.77 829.92,611.58 830.68,611.52 831.43,611.75 832.18,611.84 832.93,611.86 833.68,611.96 834.43,611.92 835.18,611.91 835.93,612.13 836.68,612.23 837.43,612.15 838.19,612.07 838.94,611.86 839.69,611.82 840.44,611.93 841.19,612.90 841.94,611.98 842.69,612.00 843.44,611.81 844.19,611.68 844.94,611.88 845.70,612.14 846.45,612.05 847.20,611.96 847.95,612.13 848.70,612.15 849.45,612.20 850.20,612.35 850.95,612.11 851.70,611.82 852.45,611.90 853.21,612.01 853.96,611.87 854.71,611.68 855.46,611.68 856.21,611.93 856.96,612.05 857.71,611.98 858.46,611.95 859.21,611.95 859.96,612.00 860.72,612.16 861.47,612.26 862.22,612.23 862.97,612.25 863.72,612.23 864.47,612.06 865.22,611.85 865.97,611.86 866.72,612.01 867.47,611.92 868.23,611.82 868.98,612.01 869.73,612.33 870.48,612.31 871.23,611.92 871.98,611.75 872.73,611.92 873.48,611.98 874.23,611.74 874.98,611.68 875.74,611.89 876.49,612.12 877.24,612.19 877.99,612.10 878.74,612.08 879.49,611.92 880.24,611.80 880.99,611.78 881.74,611.75 882.49,611.85 883.25,611.84 884.00,611.78 884.75,611.89 885.50,613.33 886.25,611.78 887.00,611.82 887.75,611.96 888.50,611.98 889.25,611.79 890.00,611.62 890.75,611.79 891.51,612.05 892.26,612.20 893.01,612.33 893.76,612.29 894.51,612.05 895.26,612.00 896.01,612.20 896.76,612.26 897.51,612.14 898.27,612.14 899.02,612.16 899.77,611.99 900.52,611.92 901.27,611.90 902.02,611.89 902.77,611.90 903.52,611.88 904.27,611.96 905.02,611.91 905.78,611.85 906.53,611.92 907.28,612.01 908.03,612.21 908.78,612.27 909.53,612.14 910.28,612.03 911.03,611.92 911.78,611.87 912.53,611.84 913.29,611.85 914.04,611.90 914.79,611.95 915.54,612.03 916.29,611.90 917.04,611.83 917.79,612.07 918.54,612.03 919.29,611.80 920.04,611.73 920.80,611.69 921.55,611.87 922.30,613.55 923.05,612.19 923.80,612.11 924.55,611.81 925.30,611.71 926.05,611.88 926.80,611.94 927.55,612.08 928.31,612.22 929.06,612.23 929.81,612.25 930.56,612.13 931.31,611.92 932.06,611.75 932.81,611.75 933.56,611.90 934.31,611.92 935.06,611.84 935.82,612.05 936.57,612.37 937.32,612.21 938.07,611.98 938.82,612.04 939.57,611.94 940.32,611.96 941.07,612.18 941.82,612.10 942.57,611.94 943.33,612.05 944.08,612.15 944.83,612.06 945.58,611.96 946.33,611.85 947.08,611.88 947.83,612.00 948.58,612.77 949.33,612.10 950.08,612.22 950.84,612.25 951.59,612.05 952.34,611.86 953.09,611.89 953.84,612.01 954.59,612.09 955.34,612.03 956.09,612.01 956.84,611.98 957.59,611.79 958.35,611.68 959.10,611.59 959.85,611.68 960.60,611.90 961.35,611.88 962.10,611.85 962.85,611.83 963.60,611.87 964.35,612.04 965.10,612.13 965.86,612.17 966.61,612.21 967.36,612.09 968.11,611.95 968.86,611.91 969.61,611.96 970.36,611.96 971.11,612.04 971.86,612.24 972.61,612.20 973.37,611.99 974.12,611.83 974.87,611.77 975.62,611.82 976.37,611.86 977.12,611.92 977.87,612.05 978.62,612.19 979.37,612.16 980.12,611.78 980.88,611.69 981.63,612.02 982.38,612.30 983.13,612.45 983.88,612.34 984.63,612.09 985.38,612.11 986.13,612.24 986.88,612.21 987.63,612.08 988.38,611.92 989.14,611.87 989.89,611.96 990.64,611.99 991.39,612.13 992.14,612.27 992.89,612.11 993.64,611.93 994.39,612.02 995.14,612.14 995.90,612.05 996.65,612.00 997.40,611.91 998.15,611.90 998.90,612.20 999.65,612.20 1000.40,612.02 1001.15,612.14 1001.90,612.16 1002.65,611.98 1003.41,611.92 1004.16,611.87 1004.91,611.89 1005.66,611.90 1006.41,611.70 1007.16,611.62 1007.91,611.74 1008.66,611.71 1009.41,611.71 1010.16,611.86 1010.92,611.98 1011.67,612.13 1012.42,612.12 1013.17,611.99 1013.92,611.88 1014.67,611.90 1015.42,612.10 1016.17,612.16 1016.92,612.10 1017.67,611.97 1018.43,611.92 1019.18,612.01 1019.93,611.99 1020.68,612.03 1021.43,612.00 1022.18,611.89 1022.93,611.91 1023.68,611.90 1024.43,611.93 1025.18,612.02 1025.93,612.17 1026.69,612.30 1027.44,613.68 1028.19,612.00 1028.94,612.05 1029.69,612.11 1030.44,613.13 1031.19,611.92 1031.94,612.20 1032.69,612.18 1033.44,612.11 1034.20,612.24 1034.95,612.21 1035.70,612.05 1036.45,612.01 1037.20,611.99"/>
<polyline fill="none" stroke="#00f" stroke-width="0.85" stroke-linejoin="round" points="98.45,600.26 99.20,599.07 99.95,597.92 100.70,596.52 101.45,594.59 102.20,593.44 102.96,590.09 103.71,587.03 104.46,583.36 105.21,578.93 105.96,573.33 106.71,566.24 107.46,557.08 108.21,544.82 108.96,528.00 109.72,504.43 110.47,470.58 111.22,420.60 111.97,346.29 112.72,242.26 113.47,127.27 114.22,70.81 114.97,121.23 115.72,228.48 116.47,330.58 117.22,406.22 117.98,458.33 118.73,494.28 119.48,519.53 120.23,537.57 120.98,550.97 121.73,561.40 122.48,569.20 123.23,575.08 123.98,580.04 124.73,584.22 125.49,587.75 126.24,590.60 126.99,592.71 127.74,594.61 128.49,596.40 129.24,597.75 129.99,598.83 130.74,599.73 131.49,600.19 132.25,600.22 133.00,599.94 133.75,599.47 134.50,599.38 135.25,600.39 136.00,602.15 136.75,605.20 137.50,604.82 138.25,605.57 139.00,606.15 139.75,606.59 140.51,606.86 141.26,607.23 142.01,607.66 142.76,609.35 143.51,607.91 144.26,608.14 145.01,608.49 145.76,608.67 146.51,608.70 147.26,608.80 148.02,608.84 148.77,609.01 149.52,609.30 150.27,609.24 151.02,609.18 151.77,609.45 152.52,609.61 153.27,609.55 154.02,609.54 154.78,609.65 155.53,609.93 156.28,609.46 157.03,610.12 157.78,610.04 158.53,609.99 159.28,610.16 160.03,610.48 160.78,610.45 161.53,610.18 162.28,610.20 163.04,610.40 163.79,610.40 164.54,610.33 165.29,610.30 166.04,610.32 166.79,610.43 167.54,610.56 168.29,610.54 169.04,610.63 169.80,610.87 170.55,610.82 171.30,611.38 172.05,610.85 172.80,610.80 173.55,610.72 174.30,610.66 175.05,610.65 175.80,610.58 176.55,610.52 177.31,610.69 178.06,610.98 178.81,610.93 179.56,610.65 180.31,610.73 181.06,610.88 181.81,610.83 182.56,610.74 183.31,610.67 184.06,610.70 184.81,610.80 185.57,610.81 186.32,610.79 187.07,611.65 187.82,610.56 188.57,610.51 189.32,610.91 190.07,611.01 190.82,610.47 191.57,610.18 192.32,610.51 193.08,610.60 193.83,610.38 194.58,610.34 195.33,610.28 196.08,610.04 196.83,609.79 197.58,609.59 198.33,609.28 199.08,608.91 199.84,608.41 200.59,607.61 201.34,606.50 202.09,605.03 202.84,603.26 203.59,600.85 204.34,597.86 205.09,594.77 205.84,591.46 206.59,588.03 207.34,584.94 208.10,582.41 208.85,580.85 209.60,580.77 210.35,581.89 211.10,583.85 211.85,586.66 212.60,589.89 213.35,593.04 214.10,595.87 214.86,598.55 215.61,601.16 216.36,603.41 217.11,605.19 217.86,606.35 218.61,607.20 219.36,608.12 220.11,608.79 220.86,609.11 221.61,609.31 222.37,609.44 223.12,609.57 223.87,609.93 224.62,610.24 225.37,610.33 226.12,609.38 226.87,610.40 227.62,611.51 228.37,610.60 229.12,610.71 229.88,610.62 230.63,610.71 231.38,610.79 232.13,610.54 232.88,610.39 233.63,609.39 234.38,610.67 235.13,610.57 235.88,610.25 236.63,610.39 237.38,610.77 238.14,610.77 238.89,610.71 239.64,610.71 240.39,610.58 241.14,610.36 241.89,610.10 242.64,610.15 243.39,610.33 244.14,610.07 244.89,609.56 245.65,608.83 246.40,607.97 247.15,607.01 247.90,605.52 248.65,603.27 249.40,600.84 250.15,598.30 250.90,595.24 251.65,592.00 252.41,589.05 253.16,586.58 253.91,585.09 254.66,585.13 255.41,585.91 256.16,587.20 256.91,589.14 257.66,591.38 258.41,593.72 259.16,596.12 259.92,598.46 260.67,600.52 261.42,602.32 262.17,603.91 262.92,605.24 263.67,606.30 264.42,607.13 265.17,607.87 265.92,608.46 266.67,608.88 267.43,609.22 268.18,609.37 268.93,609.42 269.68,609.57 270.43,608.26 271.18,609.43 271.93,609.39 272.68,609.59 273.43,609.66 274.18,609.39 274.94,609.30 275.69,607.96 276.44,609.13 277.19,609.11 277.94,610.60 278.69,608.79 279.44,608.56 280.19,608.47 280.94,608.25 281.69,607.84 282.44,607.74 283.20,607.60 283.95,607.09 284.70,606.65 285.45,606.23 286.20,605.75 286.95,605.16 287.70,604.50 288.45,603.74 289.20,602.79 289.95,601.81 290.71,600.63 291.46,599.01 292.21,597.15 292.96,595.12 293.71,592.58 294.46,589.47 295.21,585.90 295.96,581.44 296.71,576.14 297.46,570.32 298.22,564.08 298.97,558.16 299.72,553.74 300.47,551.88 301.22,552.69 301.97,555.93 302.72,561.68 303.47,566.13 304.22,572.03 304.98,578.28 305.73,582.14 306.48,586.36 307.23,589.96 307.98,592.64 308.73,594.97 309.48,597.17 310.23,598.91 310.98,600.35 311.73,601.64 312.49,602.62 313.24,603.54 313.99,604.52 314.74,605.28 315.49,605.81 316.24,606.22 316.99,606.52 317.74,606.88 318.49,607.26 319.24,607.62 320.00,608.02 320.75,609.59 321.50,608.34 322.25,608.45 323.00,608.88 323.75,609.21 324.50,609.36 325.25,609.53 326.00,609.67 326.75,609.72 327.50,609.72 328.26,609.71 329.01,609.87 329.76,609.97 330.51,610.03 331.26,610.12 332.01,610.19 332.76,610.43 333.51,610.64 334.26,610.63 335.01,610.71 335.77,610.83 336.52,610.90 337.27,610.86 338.02,611.58 338.77,610.77 339.52,611.01 340.27,611.09 341.02,611.06 341.77,611.09 342.52,611.21 343.28,611.23 344.03,611.17 344.78,611.10 345.53,610.93 346.28,610.90 347.03,611.03 347.78,611.20 348.53,611.30 349.28,611.22 350.04,611.16 350.79,611.08 351.54,611.17 352.29,611.48 353.04,611.51 353.79,611.42 354.54,611.42 355.29,611.53 356.04,611.51 356.79,611.34 357.55,611.29 358.30,611.41 359.05,611.56 359.80,611.50 360.55,611.36 361.30,611.51 362.05,611.64 362.80,611.44 363.55,611.31 364.30,611.37 365.06,611.43 365.81,611.49 366.56,611.57 367.31,611.56 368.06,611.52 368.81,611.41 369.56,611.42 370.31,611.60 371.06,611.62 371.81,611.49 372.56,611.36 373.32,611.49 374.07,611.68 374.82,611.57 375.57,611.32 376.32,611.38 377.07,611.74 377.82,611.72 378.57,611.57 379.32,611.81 380.07,611.87 380.83,611.58 381.58,611.52 382.33,611.64 383.08,611.62 383.83,611.50 384.58,611.45 385.33,611.50 386.08,611.60 386.83,611.75 387.58,611.78 388.34,611.63 389.09,611.50 389.84,611.59 390.59,611.72 391.34,611.60 392.09,611.56 392.84,611.69 393.59,611.77 394.34,611.88 395.09,611.96 395.85,611.80 396.60,611.74 397.35,611.78 398.10,611.78 398.85,611.91 399.60,611.94 400.35,611.70 401.10,611.61 401.85,611.79 402.60,611.71 403.36,611.55 404.11,611.55 404.86,611.63 405.61,611.97 406.36,612.09 407.11,611.90 407.86,611.90 408.61,613.47 409.36,611.88 410.12,611.64 410.87,611.63 411.62,613.08 412.37,611.69 413.12,611.71 413.87,611.79 414.62,611.80 415.37,611.76 416.12,611.69 416.87,611.72 417.62,611.74 418.38,611.72 419.13,611.79 419.88,611.77 420.63,611.61 421.38,611.59 422.13,611.64 422.88,611.58 423.63,611.67 424.38,611.86 425.13,611.87 425.89,611.77 426.64,611.84 427.39,612.04 428.14,612.08 428.89,612.01 429.64,611.87 430.39,611.61 431.14,612.92 431.89,611.57 432.64,611.74 433.40,611.85 434.15,611.78 434.90,611.54 435.65,611.40 436.40,611.57 437.15,611.80 437.90,611.87 438.65,611.95 439.40,611.98 440.15,611.90 440.91,611.69 441.66,611.56 442.41,611.60 443.16,611.52 443.91,611.49 444.66,611.59 445.41,611.56 446.16,611.65 446.91,611.83 447.66,611.83 448.42,611.83 449.17,611.89 449.92,611.88 450.67,611.81 451.42,611.83 452.17,611.94 452.92,612.01 453.67,612.04 454.42,611.87 455.18,611.73 455.93,611.76 456.68,611.76 457.43,611.79 458.18,611.92 458.93,611.90 459.68,611.73 460.43,611.65 461.18,611.55 461.93,611.48 462.69,611.62 463.44,611.63 464.19,611.62 464.94,611.84 465.69,612.06 466.44,612.07 467.19,611.84 467.94,611.67 468.69,611.73 469.44,611.84 470.19,611.86 470.95,611.96 471.70,612.11 472.45,611.98 473.20,611.94 473.95,611.90 474.70,611.75 475.45,611.98 476.20,612.20 476.95,612.03 477.70,611.86 478.46,611.87 479.21,611.80 479.96,611.72 480.71,611.88 481.46,612.08 482.21,611.93 482.96,611.77 483.71,611.99 484.46,612.09 485.21,611.90 485.97,611.75 486.72,611.73 487.47,611.83 488.22,611.91 488.97,611.78 489.72,613.15 490.47,611.95 491.22,611.61 491.97,611.50 492.72,611.82 493.48,611.83 494.23,611.78 494.98,612.13 495.73,612.35 496.48,612.24 497.23,612.09 497.98,611.96 498.73,611.82 499.48,611.89 500.24,612.00 500.99,611.76 501.74,611.50 502.49,611.52 503.24,611.66 503.99,611.74 504.74,611.81 505.49,611.90 506.24,611.85 506.99,611.77 507.75,611.70 508.50,611.82 509.25,612.00 510.00,611.86 510.75,612.63 511.50,612.00 512.25,612.10 513.00,612.14 513.75,612.09 514.50,611.77 515.25,611.58 516.01,611.67 516.76,611.80 517.51,611.86 518.26,611.91 519.01,611.91 519.76,611.74 520.51,611.62 521.26,611.73 522.01,611.90 522.76,611.93 523.52,611.79 524.27,611.64 525.02,611.88 525.77,612.12 526.52,611.84 527.27,611.56 528.02,611.61 528.77,611.72 529.52,611.97 530.27,612.30 531.03,612.38 531.78,612.21 532.53,611.98 533.28,611.81 534.03,611.80 534.78,611.83 535.53,611.81 536.28,611.92 537.03,611.96 537.78,611.89 538.54,612.16 539.29,612.42 540.04,612.23 540.79,612.18 541.54,612.35 542.29,612.19 543.04,612.07 543.79,612.23 544.54,612.24 545.30,612.11 546.05,611.92 546.80,611.74 547.55,611.87 548.30,612.16 549.05,612.08 549.80,611.73 550.55,611.56 551.30,611.69 552.05,611.70 552.81,611.62 553.56,611.80 554.31,612.05 555.06,612.16 555.81,611.92 556.56,611.74 557.31,611.95 558.06,612.10 558.81,612.09 559.56,611.92 560.32,611.79 561.07,611.83 561.82,611.77 562.57,611.72 563.32,611.67 564.07,611.58 564.82,611.70 565.57,611.94 566.32,612.08 567.07,612.04 567.83,611.92 568.58,611.73 569.33,611.42 570.08,611.47 570.83,611.83 571.58,611.85 572.33,611.83 573.08,612.09 573.83,612.04 574.58,611.87 575.34,612.00 576.09,612.07 576.84,611.95 577.59,611.83 578.34,611.82 579.09,611.80 579.84,611.80 580.59,611.79 581.34,611.80 582.09,612.04 582.85,612.29 583.60,612.37 584.35,612.30 585.10,612.03 585.85,611.79 586.60,611.86 587.35,612.06 588.10,612.14 588.85,612.09 589.60,612.05 590.36,612.12 591.11,612.19 591.86,612.01 592.61,611.96 593.36,612.16 594.11,612.25 594.86,612.22 595.61,612.09 596.36,612.15 597.11,612.25 597.87,611.92 598.62,611.65 599.37,611.69 600.12,611.75 600.87,611.99 601.62,612.19 602.37,612.03 603.12,612.04 603.87,612.09 604.62,611.89 605.38,612.61 606.13,611.91 606.88,611.89 607.63,611.93 608.38,611.95 609.13,611.97 609.88,611.99 610.63,611.93 611.38,611.77 612.13,611.68 612.88,611.76 613.64,611.97 614.39,611.98 615.14,612.03 615.89,612.32 616.64,612.19 617.39,611.82 618.14,611.71 618.89,611.77 619.64,611.85 620.40,611.91 621.15,612.08 621.90,612.28 622.65,612.29 623.40,612.15 624.15,612.08 624.90,612.29 625.65,612.60 626.40,612.49 627.15,612.11 627.91,611.96 628.66,612.04 629.41,612.24 630.16,612.16 630.91,611.88 631.66,611.82 632.41,611.65 633.16,611.57 633.91,611.81 634.66,611.97 635.42,612.02 636.17,612.06 636.92,611.97 637.67,611.87 638.42,611.78 639.17,611.63 639.92,611.64 640.67,611.78 641.42,612.83 642.17,612.02 642.93,612.15 643.68,612.14 644.43,612.03 645.18,611.79 645.93,611.64 646.68,611.68 647.43,611.82 648.18,611.93 648.93,612.07 649.68,612.09 650.44,611.92 651.19,611.93 651.94,612.02 652.69,612.04 653.44,612.14 654.19,612.11 654.94,612.06 655.69,612.12 656.44,611.28 657.19,611.83 657.95,611.70 658.70,611.71 659.45,611.91 660.20,612.12 660.95,612.15 661.70,612.09 662.45,611.86 663.20,611.70 663.95,611.84 664.70,612.02 665.46,612.01 666.21,612.03 666.96,612.11 667.71,612.00 668.46,611.93 669.21,612.02 669.96,612.01 670.71,611.99 671.46,612.09 672.21,612.05 672.97,611.86 673.72,611.73 674.47,611.75 675.22,613.58 675.97,612.18 676.72,611.86 677.47,611.78 678.22,612.07 678.97,612.19 679.72,612.17 680.48,612.21 681.23,612.26 681.98,612.28 682.73,612.27 683.48,612.27 684.23,612.01 684.98,611.76 685.73,611.81 686.48,611.89 687.23,612.04 687.99,612.21 688.74,612.14 689.49,611.90 690.24,611.76 690.99,611.80 691.74,612.01 692.49,612.05 693.24,611.85 693.99,611.61 694.74,611.63 695.50,611.98 696.25,612.27 697.00,612.17 697.75,611.88 698.50,611.91 699.25,612.04 700.00,612.17 700.75,612.43 701.50,612.30 702.25,611.91 703.00,611.81 703.76,611.96 704.51,612.03 705.26,611.81 706.01,611.74 706.76,611.99 707.51,612.06 708.26,611.98 709.01,611.92 709.76,611.93 710.52,612.03 711.27,612.08 712.02,612.05 712.77,612.04 713.52,612.01 714.27,613.02 715.02,611.90 715.77,612.00 716.52,611.96 717.27,611.83 718.03,611.92 718.78,611.94 719.53,611.82 720.28,613.39 721.03,611.90 721.78,611.99 722.53,612.07 723.28,611.87 724.03,613.24 724.78,611.88 725.54,612.10 726.29,612.08 727.04,612.07 727.79,612.03 728.54,612.02 729.29,612.01 730.04,611.84 730.79,611.80 731.54,611.79 732.29,611.70 733.05,611.63 733.80,611.78 734.55,612.06 735.30,612.19 736.05,612.27 736.80,612.10 737.55,611.81 738.30,611.67 739.05,611.72 739.80,611.88 740.56,611.92 741.31,611.82 742.06,611.65 742.81,611.66 743.56,611.62 744.31,611.44 745.06,611.70 745.81,611.95 746.56,611.83 747.31,611.75 748.07,611.86 748.82,611.89 749.57,611.78 750.32,611.72 751.07,611.62 751.82,611.73 752.57,612.09 753.32,612.24 754.07,612.13 754.82,611.97 755.58,611.89 756.33,611.95 757.08,612.00 757.83,611.84 758.58,611.81 759.33,612.04 760.08,612.04 760.83,611.93 761.58,611.95 762.33,611.85 763.09,611.61 763.84,611.57 764.59,611.78 765.34,611.83 766.09,611.65 766.84,611.77 767.59,612.02 768.34,612.06 769.09,611.88 769.84,611.66 770.60,611.76 771.35,612.07 772.10,612.18 772.85,612.06 773.60,612.11 774.35,612.13 775.10,611.99 775.85,611.96 776.60,611.80 777.35,611.85 778.11,612.12 778.86,612.19 779.61,612.89 780.36,611.99 781.11,613.40 781.86,611.94 782.61,611.80 783.36,611.94 784.11,612.13 784.86,611.98 785.62,611.93 786.37,612.08 787.12,612.13 787.87,612.05 788.62,611.86 789.37,611.86 790.12,611.92 790.87,611.91 791.62,612.08 792.37,611.96 793.12,611.72 793.88,613.33 794.63,611.75 795.38,613.36 796.13,612.04 796.88,612.02 797.63,611.98 798.38,612.05 799.13,612.14 799.88,612.21 800.63,612.20 801.39,612.00 802.14,611.83 802.89,611.94 803.64,612.09 804.39,611.96 805.14,611.99 805.89,612.14 806.64,611.97 807.39,611.78 808.15,613.01 808.90,611.74 809.65,611.70 810.40,611.75 811.15,612.03 811.90,612.29 812.65,612.17 813.40,611.98 814.15,611.93 814.90,611.82 815.66,611.78 816.41,611.75 817.16,611.74 817.91,611.88 818.66,611.91 819.41,612.00 820.16,612.04 820.91,613.40 821.66,611.93 822.41,611.95 823.17,612.04 823.92,612.08 824.67,612.07 825.42,612.06 826.17,612.09 826.92,612.08 827.67,612.02 828.42,612.14 829.17,612.10 829.92,611.82 830.68,611.70 831.43,611.76 832.18,611.69 832.93,611.68 833.68,612.00 834.43,612.20 835.18,612.07 835.93,611.87 836.68,611.76 837.43,611.70 838.19,611.74 838.94,611.96 839.69,612.14 840.44,611.98 841.19,611.63 841.94,611.61 842.69,611.81 843.44,611.96 844.19,612.02 844.94,612.03 845.70,612.18 846.45,612.30 847.20,612.15 847.95,612.94 848.70,611.91 849.45,611.83 850.20,611.81 850.95,611.83 851.70,612.01 852.45,612.32 853.21,612.15 853.96,611.86 854.71,612.01 855.46,612.02 856.21,611.92 856.96,611.97 857.71,612.00 858.46,612.23 859.21,612.40 859.96,612.38 860.72,612.27 861.47,612.08 862.22,611.96 862.97,611.99 863.72,611.89 864.47,611.67 865.22,613.00 865.97,611.92 866.72,611.90 867.47,611.99 868.23,612.04 868.98,611.91 869.73,611.76 870.48,611.72 871.23,611.80 871.98,612.91 872.73,611.95 873.48,611.73 874.23,611.80 874.98,611.84 875.74,611.71 876.49,611.79 877.24,612.07 877.99,612.13 878.74,612.06 879.49,612.18 880.24,612.31 880.99,612.33 881.74,612.33 882.49,612.06 883.25,611.80 884.00,611.90 884.75,612.00 885.50,611.95 886.25,612.08 887.00,612.24 887.75,612.22 888.50,612.12 889.25,611.92 890.00,611.96 890.75,612.22 891.51,612.10 892.26,611.84 893.01,611.81 893.76,611.96 894.51,612.05 895.26,612.02 896.01,612.08 896.76,611.93 897.51,611.60 898.27,611.54 899.02,611.67 899.77,611.82 900.52,612.00 901.27,611.97 902.02,611.81 902.77,611.87 903.52,612.06 904.27,612.14 905.02,611.97 905.78,611.89 906.53,612.04 907.28,611.96 908.03,611.74 908.78,611.82 909.53,612.05 910.28,612.16 911.03,612.12 911.78,612.72 912.53,611.81 913.29,611.80 914.04,611.80 914.79,611.97 915.54,612.00 916.29,611.86 917.04,611.97 917.79,612.08 918.54,611.98 919.29,612.01 920.04,612.17 920.80,613.23 921.55,612.00 922.30,611.95 923.05,611.91 923.80,611.10 924.55,612.03 925.30,611.91 926.05,611.85 926.80,611.81 927.55,611.81 928.31,611.87 929.06,611.88 929.81,611.98 930.56,612.00 931.31,611.76 932.06,611.56 932.81,611.70 933.56,611.84 934.31,611.80 935.06,611.93 935.82,612.03 936.57,611.93 937.32,611.83 938.07,611.84 938.82,611.92 939.57,611.88 940.32,611.81 941.07,611.86 941.82,611.97 942.57,611.98 943.33,611.85 944.08,611.82 944.83,611.89 945.58,611.95 946.33,612.04 947.08,612.08 947.83,611.95 948.58,611.82 949.33,611.81 950.08,611.79 950.84,611.74 951.59,611.74 952.34,611.99 953.09,612.15 953.84,612.01 954.59,612.00 955.34,612.04 956.09,611.90 956.84,611.83 957.59,611.88 958.35,611.94 959.10,611.92 959.85,611.77 960.60,611.72 961.35,611.91 962.10,611.96 962.85,612.01 963.60,612.27 964.35,612.13 965.10,611.87 965.86,612.00 966.61,612.04 967.36,612.07 968.11,612.25 968.86,612.34 969.61,612.15 970.36,611.99 971.11,612.04 971.86,611.93 972.61,611.71 973.37,611.67 974.12,611.78 974.87,611.74 975.62,611.75 976.37,612.04 977.12,612.09 977.87,611.94 978.62,612.06 979.37,612.04 980.12,611.77 980.88,611.78 981.63,611.98 982.38,612.02 983.13,611.90 983.88,611.62 984.63,611.64 985.38,611.96 986.13,612.14 986.88,612.28 987.63,612.22 988.38,611.96 989.14,611.73 989.89,611.83 990.64,612.07 991.39,612.10 992.14,612.04 992.89,611.97 993.64,611.90 994.39,611.75 995.14,611.63 995.90,611.82 996.65,612.18 997.40,612.31 998.15,612.09 998.90,611.87 999.65,611.96 1000.40,612.05 1001.15,612.07 1001.90,612.21 1002.65,612.16 1003.41,611.97 1004.16,611.98 1004.91,613.48 1005.66,611.97 1006.41,612.05 1007.16,612.11 1007.91,612.01 1008.66,611.89 1009.41,611.98 1010.16,612.13 1010.92,612.02 1011.67,611.74 1012.42,611.71 1013.17,611.95 1013.92,611.99 1014.67,611.90 1015.42,611.81 1016.17,611.72 1016.92,611.67 1017.67,611.80 1018.43,612.02 1019.18,612.03 1019.93,611.90 1020.68,611.69 1021.43,611.46 1022.18,611.62 1022.93,611.96 1023.68,612.07 1024.43,612.22 1025.18,612.22 1025.93,611.92 1026.69,611.89 1027.44,611.93 1028.19,611.85 1028.94,612.05 1029.69,612.13 1030.44,611.92 1031.19,611.88 1031.94,611.95 1032.69,611.95 1033.44,611.93 1034.20,611.96 1034.95,612.11 1035.70,613.57 1036.45,612.22 1037.20,611.95"/>
<g stroke="#000" stroke-width="2.35" stroke-linecap="round" fill="none">
<line x1="98.45" y1="7.77" x2="98.45" y2="698.5"/>
<line x1="98.45" y1="698.5" x2="1037.20" y2="698.5"/>
<line x1="98.45" y1="698.5" x2="98.45" y2="705.53"/>
<line x1="136.00" y1="698.5" x2="136.00" y2="712.03"/>
<line x1="173.55" y1="698.5" x2="173.55" y2="705.53"/>
<line x1="211.10" y1="698.5" x2="211.10" y2="712.03"/>
<line x1="248.65" y1="698.5" x2="248.65" y2="705.53"/>
<line x1="286.20" y1="698.5" x2="286.20" y2="712.03"/>
<line x1="323.75" y1="698.5" x2="323.75" y2="705.53"/>
<line x1="361.30" y1="698.5" x2="361.30" y2="712.03"/>
<line x1="398.85" y1="698.5" x2="398.85" y2="705.53"/>
<line x1="436.40" y1="698.5" x2="436.40" y2="712.03"/>
<line x1="473.95" y1="698.5" x2="473.95" y2="705.53"/>
<line x1="511.50" y1="698.5" x2="511.50" y2="712.03"/>
<line x1="549.05" y1="698.5" x2="549.05" y2="705.53"/>
<line x1="586.60" y1="698.5" x2="586.60" y2="712.03"/>
<line x1="624.15" y1="698.5" x2="624.15" y2="705.53"/>
<line x1="661.70" y1="698.5" x2="661.70" y2="712.03"/>
<line x1="699.25" y1="698.5" x2="699.25" y2="705.53"/>
<line x1="736.80" y1="698.5" x2="736.80" y2="712.03"/>
<line x1="774.35" y1="698.5" x2="774.35" y2="705.53"/>
<line x1="811.90" y1="698.5" x2="811.90" y2="712.03"/>
<line x1="849.45" y1="698.5" x2="849.45" y2="705.53"/>
<line x1="887.00" y1="698.5" x2="887.00" y2="712.03"/>
<line x1="924.55" y1="698.5" x2="924.55" y2="705.53"/>
<line x1="962.10" y1="698.5" x2="962.10" y2="712.03"/>
<line x1="999.65" y1="698.5" x2="999.65" y2="705.53"/>
<line x1="1037.20" y1="698.5" x2="1037.20" y2="712.03"/>
<line x1="98.45" y1="50.90" x2="105.12" y2="50.90"/>
<line x1="98.45" y1="137.23" x2="105.12" y2="137.23"/>
<line x1="98.45" y1="223.56" x2="105.12" y2="223.56"/>
<line x1="98.45" y1="309.89" x2="105.12" y2="309.89"/>
<line x1="98.45" y1="396.22" x2="105.12" y2="396.22"/>
<line x1="98.45" y1="482.55" x2="105.12" y2="482.55"/>
<line x1="98.45" y1="568.88" x2="105.12" y2="568.88"/>
<line x1="98.45" y1="655.21" x2="105.12" y2="655.21"/>
</g>
<g font-size="27" text-anchor="middle">
<text transform="translate(135.70,742.3) scale(1.012,1.03)">200</text>
<text transform="translate(210.80,742.3) scale(1.012,1.03)">400</text>
<text transform="translate(285.90,742.3) scale(1.012,1.03)">600</text>
<text transform="translate(361.00,742.3) scale(1.012,1.03)">800</text>
<text transform="translate(436.10,742.3) scale(1.012,1.03)">1000</text>
<text transform="translate(511.20,742.3) scale(1.012,1.03)">1200</text>
<text transform="translate(586.30,742.3) scale(1.012,1.03)">1400</text>
<text transform="translate(661.40,742.3) scale(1.012,1.03)">1600</text>
<text transform="translate(736.50,742.3) scale(1.012,1.03)">1800</text>
<text transform="translate(811.60,742.3) scale(1.012,1.03)">2000</text>
<text transform="translate(886.70,742.3) scale(1.012,1.03)">2200</text>
<text transform="translate(961.80,742.3) scale(1.012,1.03)">2400</text>
<text transform="translate(1036.90,742.3) scale(1.012,1.03)">2600</text>
</g>
<g style="font-kerning:none">
<text transform="translate(439.55,804.30) scale(1.0290,1.0)" font-size="33">Raman</text>
<text transform="translate(544.52,804.30) scale(1.0254,1.0)" font-size="33">shift</text>
<text transform="translate(613.38,804.30) scale(1.0166,1.0)" font-size="33">(cm</text>
<text transform="translate(666.53,784.60) scale(0.9645,1.0)" font-size="18.5">-1</text>
<text transform="translate(682.55,804.30) scale(1.0872,1.0)" font-size="33">)</text>
<text transform="translate(32.90,416.60) rotate(-90) scale(1.0228,1.0)" font-size="33">Intensity</text>
<text transform="translate(638.95,98.20) scale(1.0329,1.0)" font-size="33">TiO</text>
<text transform="translate(693.24,111.50) scale(1.1146,1.0)" font-size="18.5">2</text>
<text transform="translate(638.03,151.90) scale(1.0449,1.0)" font-size="33">Poplar</text>
<text transform="translate(638.14,193.40) scale(1.0248,1.0)" font-size="33">Cu-doped</text>
<text transform="translate(781.25,193.40) scale(1.0290,1.0)" font-size="33">TiO</text>
<text transform="translate(835.37,206.60) scale(1.0748,1.0)" font-size="18.5">2</text>
</g>
<g stroke-width="1" fill="none">
<line x1="553.5" y1="87.2" x2="630" y2="87.2" stroke="#000"/>
<line x1="553.5" y1="141.2" x2="630" y2="141.2" stroke="#f00"/>
<line x1="553.5" y1="183.1" x2="630" y2="183.1" stroke="#00f"/>
</g>
</svg></body></html>
